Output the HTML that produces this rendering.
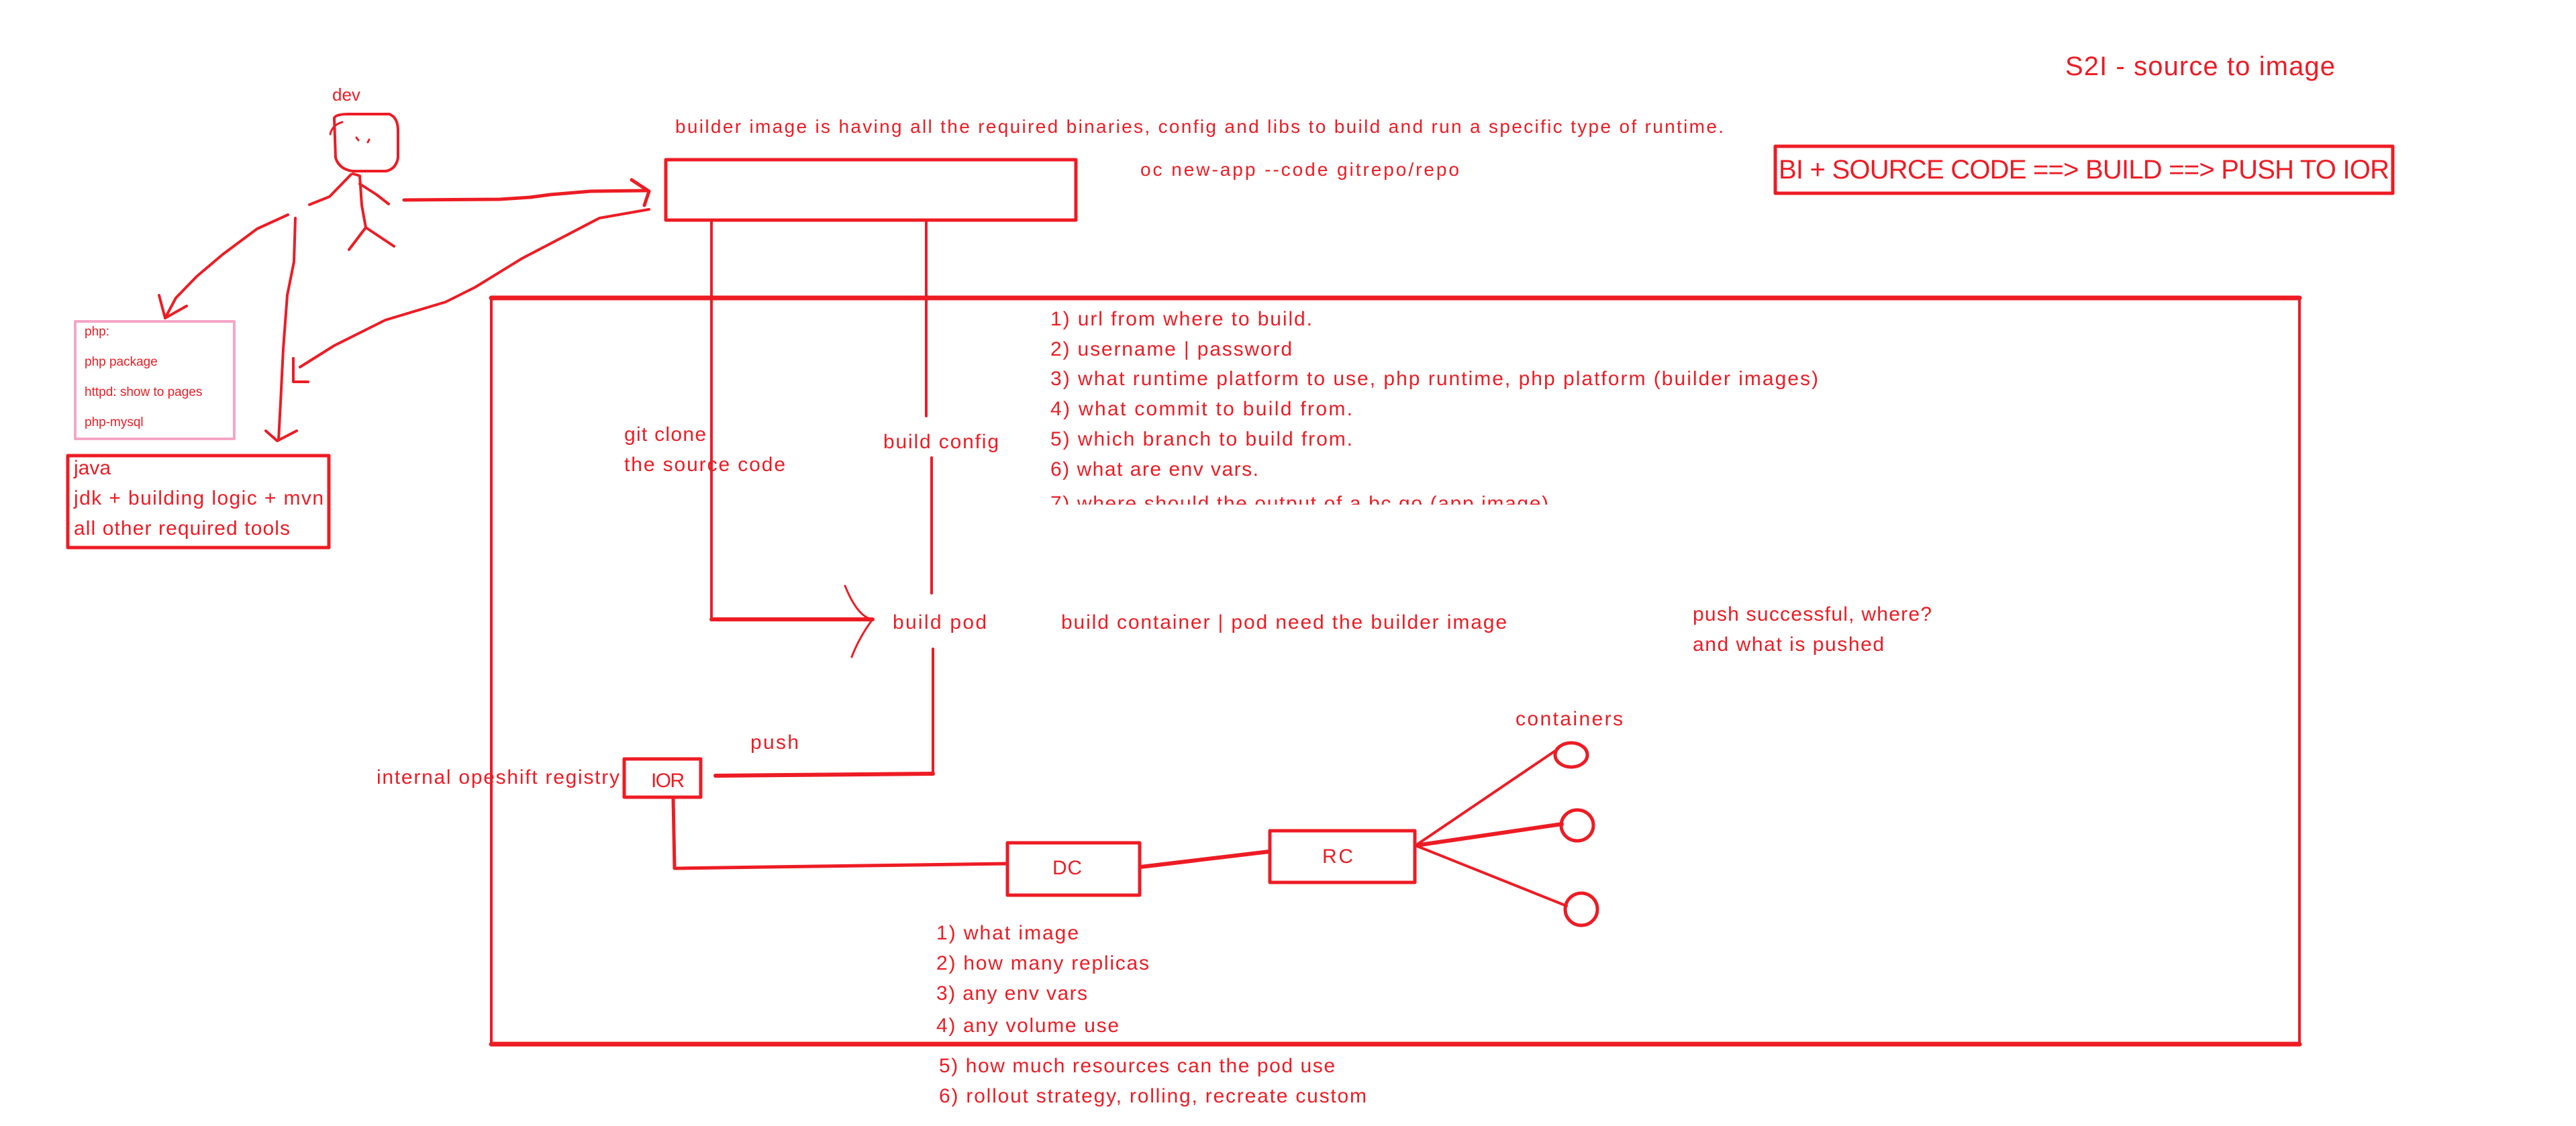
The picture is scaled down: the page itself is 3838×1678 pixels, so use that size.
<!DOCTYPE html>
<html><head><meta charset="utf-8"><style>
html,body{margin:0;padding:0;background:#fff;}
svg{display:block;}
text{font-family:"Liberation Sans",sans-serif;fill:#ed1c24;}
</style></head><body>
<svg width="3838" height="1678" viewBox="0 0 3838 1678" xmlns="http://www.w3.org/2000/svg">
<defs><clipPath id="c7"><rect x="1500" y="700" width="1400" height="52"/></clipPath></defs>
<g fill="none" stroke="#ed1c24" stroke-linecap="round" stroke-linejoin="round">
<!-- stick figure -->
<path d="M498,176 Q500,170 520,170 L580,170 Q593,175 593,195 L593,235 Q590,252 575,255 L525,255 Q505,252 500,235 Z" stroke-width="4"/>
<path d="M492,200 Q495,186 510,182" stroke-width="3"/>
<path d="M531,205 l3,4 M550,208 l-2,4" stroke-width="3"/>
<path d="M526,259 L536,262 L539,306 L545,339" stroke-width="4"/>
<path d="M545,339 L520,372 M545,339 L587,367 M545,339 L535,352" stroke-width="4"/>
<path d="M523,260 L491,293 L461,305" stroke-width="4"/>
<path d="M536,274 L561,290 L579,304" stroke-width="4"/>
<!-- arrows from dev -->
<path d="M602,298 L745,297 L790,294 L820,290 L880,285 L965,284" stroke-width="5"/>
<path d="M941,268 L967,285 L960,306" stroke-width="5"/>
<path d="M967,312 L893,325 L778,385 L708,428 L664,450 L574,477 L498,515 L447,547" stroke-width="4"/>
<path d="M437,534 L437,569 L459,569" stroke-width="4"/>
<path d="M429,320 L383,341 L332,379 L293,412 L262,444 L246,474" stroke-width="4"/>
<path d="M237,440 L246,474 L278,456" stroke-width="4"/>
<path d="M440,325 L438,390 L428,440 L422,520 L418,600 L415,656" stroke-width="4"/>
<path d="M396,642 L413,657 L442,642" stroke-width="4"/>
<!-- boxes -->
<rect x="112" y="479" width="237" height="175" stroke="#f4a6c6" stroke-width="4"/>
<rect x="101" y="679" width="389" height="137" stroke-width="5"/>
<rect x="992" y="238" width="611" height="90" stroke-width="5"/>
<rect x="2645" y="218" width="920" height="70" stroke-width="5"/>
<rect x="732" y="444" width="2694" height="1112" stroke-width="4"/>
<line x1="732" y1="444" x2="3426" y2="444" stroke-width="7"/>
<line x1="732" y1="1556" x2="3426" y2="1556" stroke-width="7"/>
<!-- git clone / build config -->
<line x1="1060" y1="328" x2="1060" y2="923" stroke-width="4"/>
<line x1="1060" y1="923" x2="1300" y2="923" stroke-width="6"/>
<path d="M1259,873 Q1278,920 1300,923 Q1280,950 1269,979" stroke-width="3"/>
<line x1="1380" y1="330" x2="1380" y2="620" stroke-width="4"/>
<line x1="1388" y1="682" x2="1388" y2="884" stroke-width="4"/>
<line x1="1390" y1="967" x2="1390" y2="1154" stroke-width="4"/>
<line x1="1066" y1="1156" x2="1390" y2="1153" stroke-width="6"/>
<!-- IOR DC RC -->
<rect x="930" y="1131" width="114" height="57" stroke-width="5"/>
<path d="M1003,1190 L1005,1294 L1500,1287" stroke-width="5"/>
<rect x="1501" y="1256" width="197" height="78" stroke-width="5"/>
<line x1="1699" y1="1292" x2="1891" y2="1269" stroke-width="6"/>
<rect x="1892" y="1238" width="216" height="77" stroke-width="5"/>
<line x1="2109" y1="1260" x2="2317" y2="1119" stroke-width="4"/>
<line x1="2109" y1="1260" x2="2327" y2="1228" stroke-width="6"/>
<line x1="2109" y1="1260" x2="2334" y2="1350" stroke-width="4"/>
<ellipse cx="2341" cy="1125" rx="24" ry="18" stroke-width="5"/>
<ellipse cx="2350" cy="1230" rx="24" ry="23" stroke-width="5"/>
<ellipse cx="2356" cy="1355" rx="24" ry="24" stroke-width="5"/>
</g>
<!-- texts -->
<text x="495" y="150" font-size="26">dev</text>
<g font-size="19"><text x="126" y="500">php:</text><text x="126" y="545">php package</text><text x="126" y="590">httpd: show to pages</text><text x="126" y="635">php-mysql</text></g>
<g font-size="30"><text x="110" y="707">java</text><text x="110" y="752" textLength="372">jdk + building logic + mvn</text><text x="110" y="797" textLength="322">all other required tools</text></g>
<text x="3077" y="112" font-size="40" textLength="402">S2I - source to image</text>
<text x="1006" y="198" font-size="28" textLength="1562">builder image is having all the required binaries, config and libs to build and run a specific type of runtime.</text>
<text x="1699" y="262" font-size="28" textLength="475">oc new-app --code gitrepo/repo</text>
<text x="2650" y="266" font-size="40" textLength="910">BI + SOURCE CODE ==&gt; BUILD ==&gt; PUSH TO IOR</text>
<g font-size="30">
<text x="1565" y="485" textLength="390">1) url from where to build.</text>
<text x="1565" y="530" textLength="360">2) username | password</text>
<text x="1565" y="574" textLength="1144">3) what runtime platform to use,  php runtime, php platform (builder images)</text>
<text x="1565" y="619" textLength="450">4) what commit to build from.</text>
<text x="1565" y="664" textLength="450">5) which branch to build from.</text>
<text x="1565" y="709" textLength="310">6) what are env vars.</text>
<text x="1565" y="760" textLength="742" clip-path="url(#c7)">7) where should the output of a bc go (app image)</text>
<text x="930" y="657" textLength="122">git clone</text>
<text x="930" y="702" textLength="240">the source code</text>
<text x="1316" y="668" textLength="172">build config</text>
<text x="1330" y="937" textLength="140">build pod</text>
<text x="1581" y="937" textLength="664">build container | pod need the builder image</text>
<text x="2522" y="925" textLength="356">push successful, where?</text>
<text x="2522" y="970" textLength="285">and what is pushed</text>
<text x="2258" y="1081" textLength="160">containers</text>
<text x="1118" y="1116" textLength="72">push</text>
<text x="561" y="1168" textLength="362">internal opeshift registry</text>
<text x="970" y="1173" textLength="50">IOR</text>
<text x="1568" y="1303" textLength="44">DC</text>
<text x="1970" y="1286" textLength="46">RC</text>
<text x="1395" y="1400" textLength="212">1) what image</text>
<text x="1395" y="1445" textLength="317">2) how many replicas</text>
<text x="1395" y="1490" textLength="225">3) any env vars</text>
<text x="1395" y="1538" textLength="272">4) any volume use</text>
<text x="1399" y="1598" textLength="590">5) how much resources can the pod use</text>
<text x="1399" y="1643" textLength="637">6) rollout strategy, rolling, recreate custom</text>
</g>
</svg>
</body></html>
